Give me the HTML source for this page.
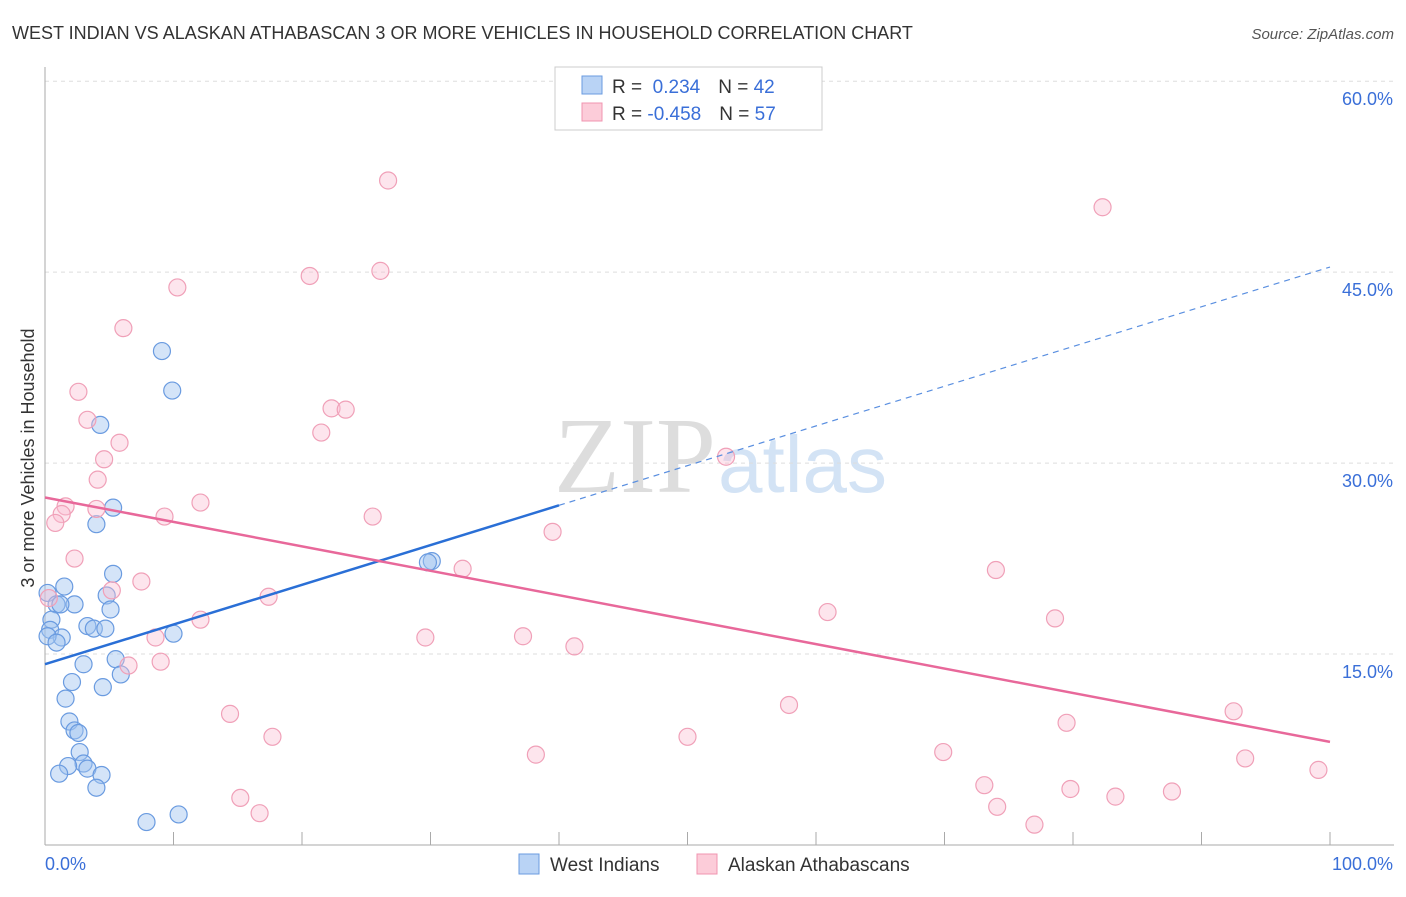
<!DOCTYPE html>
<html><head><meta charset="utf-8"><style>
body{margin:0;background:#fff;font-family:"Liberation Sans",sans-serif;}
</style></head><body>
<svg id="c" width="1406" height="892" xmlns="http://www.w3.org/2000/svg">
<text x="12" y="39" font-size="18" fill="#333">WEST INDIAN VS ALASKAN ATHABASCAN 3 OR MORE VEHICLES IN HOUSEHOLD CORRELATION CHART</text>
<text x="1394" y="39" font-size="15" fill="#555" font-style="italic" text-anchor="end">Source: ZipAtlas.com</text>
<text x="716" y="492" font-size="108" fill="#ddd" font-family="Liberation Serif,serif" text-anchor="end">ZIP</text>
<text x="718" y="492" font-size="80" fill="#d3e3f5">atlas</text>
<g id="grid"></g><g id="axes"></g><g id="marks"></g>
<text transform="translate(34,458) rotate(-90)" font-size="18" fill="#333" text-anchor="middle">3 or more Vehicles in Household</text>
<g>
<rect x="555" y="67" width="267" height="63" fill="#fff" stroke="#ccc"/>
<rect x="582" y="76" width="20" height="18" fill="#b9d3f5" stroke="#6a9be0"/>
<rect x="582" y="103" width="20" height="18" fill="#fcccd9" stroke="#f094b0"/>
<text x="612" y="93" font-size="19" fill="#333">R = <tspan fill="#3a6fd8">&#160;0.234</tspan><tspan dx="18">N = </tspan><tspan fill="#3a6fd8">42</tspan></text>
<text x="612" y="120" font-size="19" fill="#333">R = <tspan fill="#3a6fd8">-0.458</tspan><tspan dx="18">N = </tspan><tspan fill="#3a6fd8">57</tspan></text>
</g>
<g>
<rect x="519" y="854" width="20" height="20" fill="#b9d3f5" stroke="#6a9be0"/>
<text x="550" y="871" font-size="19" fill="#333">West Indians</text>
<rect x="697" y="854" width="20" height="20" fill="#fcccd9" stroke="#f094b0"/>
<text x="728" y="871" font-size="19" fill="#333">Alaskan Athabascans</text>
</g>
</svg>
<script>
const yTicks=[15,30,45,60];
const xLabels=["0.0%","100.0%"];
const blueX=[9.1,9.9,4.3,5.3,4.0,30.1,29.8,5.3,1.5,4.8,0.2,0.9,2.3,1.2,5.1,0.5,3.3,3.8,4.7,0.4,1.3,0.2,0.9,10.0,5.5,3.0,2.1,4.5,5.9,1.6,1.9,2.3,2.6,2.7,3.0,1.8,3.3,4.4,1.1,4.0,7.9,10.4];
const blueY=[38.8,35.7,33.0,26.5,25.2,22.3,22.2,21.3,20.3,19.6,19.8,18.9,18.9,18.9,18.5,17.7,17.2,17.0,17.0,16.9,16.3,16.4,15.9,16.6,14.6,14.2,12.8,12.4,13.4,11.5,9.7,9.0,8.8,7.3,6.4,6.2,6.0,5.5,5.6,4.5,1.8,2.4];
const pinkX=[26.7,82.3,26.1,20.6,10.3,6.1,2.6,3.3,22.3,23.4,21.5,5.8,4.6,4.1,53.0,12.1,1.6,1.3,4.0,0.8,9.3,25.5,39.5,2.3,32.5,74.0,7.5,5.2,17.4,60.9,78.6,12.1,8.6,29.6,37.2,41.2,9.0,6.5,0.3,57.9,92.5,14.4,79.5,17.7,50.0,38.2,69.9,93.4,99.1,73.1,79.8,83.3,87.7,15.2,16.7,74.1,77.0];
const pinkY=[52.2,50.1,45.1,44.7,43.8,40.6,35.6,33.4,34.3,34.2,32.4,31.6,30.3,28.7,30.5,26.9,26.6,26.0,26.4,25.3,25.8,25.8,24.6,22.5,21.7,21.6,20.7,20.0,19.5,18.3,17.8,17.7,16.3,16.3,16.4,15.6,14.4,14.1,19.4,11.0,10.5,10.3,9.6,8.5,8.5,7.1,7.3,6.8,5.9,4.7,4.4,3.8,4.2,3.7,2.5,3.0,1.6];
const blueTrend=[14.2,45.4];
const pinkTrend=[27.3,8.1];
const X=v=>45+v*12.85, Y=v=>845-v*12.73;
const NS="http://www.w3.org/2000/svg";
function mk(p,t,a){const e=document.createElementNS(NS,t);for(const k in a)e.setAttribute(k,a[k]);p.appendChild(e);return e;}
const grid=document.getElementById('grid'),axes=document.getElementById('axes'),marks=document.getElementById('marks');
yTicks.forEach(v=>{
 const l=mk(grid,'line',{x1:45,x2:1394,y1:Y(v),y2:Y(v),stroke:'#ddd','stroke-dasharray':'4,4'});
 
 
 const t=mk(grid,'text',{x:1393,y:Y(v)+24,'font-size':18,fill:'#3a6fd8','text-anchor':'end'});
 t.textContent=v.toFixed(1)+'%';
 
 
});
const ax=mk(axes,'line',{x1:45,x2:45,y1:67,y2:845,stroke:'#aaa'});


const bx=mk(axes,'line',{x1:45,x2:1394,y1:845,y2:845,stroke:'#aaa'});


for(let i=0;i<=10;i++){const k=mk(axes,'line',{x1:X(i*10),x2:X(i*10),y1:832,y2:845,stroke:'#aaa'});
 
 }
[[0,'start',45],[1,'end',1393]].forEach(([i,a,x])=>{const t=mk(axes,'text',{x:x,y:870,'font-size':18,fill:'#3a6fd8','text-anchor':a});t.textContent=xLabels[i];
 
 });
blueX.forEach((x,i)=>{const c=mk(marks,'circle',{cx:X(x),cy:Y(blueY[i]),r:8.5,fill:'rgba(160,195,240,0.45)',stroke:'#6a9be0','stroke-width':1.2});
 
 });
pinkX.forEach((x,i)=>{const c=mk(marks,'circle',{cx:X(x),cy:Y(pinkY[i]),r:8.5,fill:'rgba(250,190,210,0.4)',stroke:'#f0a0b8','stroke-width':1.2});
 
 });
const bt=v=>blueTrend[0]+(blueTrend[1]-blueTrend[0])*v/100;
const b1=mk(marks,'line',{x1:X(0),y1:Y(bt(0)),x2:X(40),y2:Y(bt(40)),stroke:'#2a6fd6','stroke-width':2.5});


const b2=mk(marks,'line',{x1:X(40),y1:Y(bt(40)),x2:X(100),y2:Y(bt(100)),stroke:'#5a8fe0','stroke-width':1.2,'stroke-dasharray':'6,5'});


const p1=mk(marks,'line',{x1:X(0),y1:Y(pinkTrend[0]),x2:X(100),y2:Y(pinkTrend[1]),stroke:'#e8689a','stroke-width':2.5});


</script>
</body></html>
